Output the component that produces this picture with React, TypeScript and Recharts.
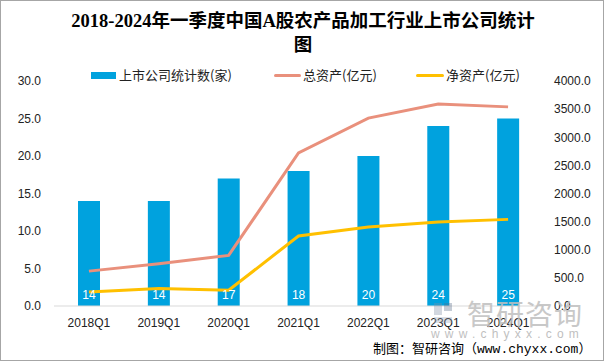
import React from "react";
import { ComposedChart, Bar, Line, XAxis, YAxis, LabelList } from "recharts";

const categories = ["2018Q1", "2019Q1", "2020Q1", "2021Q1", "2022Q1", "2023Q1", "2024Q1"];
const companyCount = [14, 14, 17, 18, 20, 24, 25];
const totalAssets = [620, 750, 900, 2720, 3340, 3590, 3540];
const netAssets = [250, 310, 280, 1245, 1405, 1495, 1540];
const leftTicks = [0, 5, 10, 15, 20, 25, 30];
const rightTicks = [0, 500, 1000, 1500, 2000, 2500, 3000, 3500, 4000];

const data = categories.map((c, i) => ({
  name: c,
  count: companyCount[i],
  total: totalAssets[i],
  net: netAssets[i],
}));

const BLUE = "#00A2DE";
const PINK = "#E9907C";
const YELLOW = "#FFC000";
const SANS = "'Liberation Sans', 'Noto Sans CJK SC', sans-serif";
const CJK = "'Noto Sans CJK SC', sans-serif";
const SERIF = "'Liberation Serif', 'Noto Sans CJK SC', serif";

export default function App() {
  return (
    <div
      style={{
        position: "absolute",
        left: 0,
        top: 0,
        width: 604,
        height: 361,
        background: "#fff",
        boxSizing: "border-box",
        border: "1px solid #a6a6a6",
        overflow: "hidden",
      }}
    >
      <div
        style={{
          position: "absolute",
          left: 0,
          top: 8,
          width: 604,
          textAlign: "center",
          fontFamily: SERIF,
          fontWeight: "bold",
          fontSize: 18.5,
          lineHeight: "24px",
          color: "#000",
        }}
      >
        2018-2024年一季度中国A股农产品加工行业上市公司统计
        <br />图
      </div>

      <div style={{ position: "absolute", left: 0, top: 0 }}>
        <ComposedChart
          width={604}
          height={361}
          data={data}
          margin={{ top: 80, right: 12, bottom: 26, left: 8 }}
        >
          <XAxis
            dataKey="name"
            xAxisId="x"
            axisLine={{ stroke: "#d9d9d9" }}
            tickLine={false}
            tickSize={0}
            tickMargin={12}
            height={30}
            tick={{ fontSize: 12, fill: "#222", fontFamily: SANS }}
          />
          <YAxis
            yAxisId="left"
            orientation="left"
            domain={[0, 30]}
            ticks={leftTicks}
            width={45}
            axisLine={false}
            tickLine={false}
            tickSize={0}
            tickMargin={13}
            tickFormatter={(v: number) => v.toFixed(1)}
            tick={{ fontSize: 12, fill: "#222", fontFamily: SANS }}
          />
          <YAxis
            yAxisId="right"
            orientation="right"
            domain={[0, 4000]}
            ticks={rightTicks}
            width={50}
            axisLine={false}
            tickLine={false}
            tickSize={0}
            tickMargin={11}
            tickFormatter={(v: number) => v.toFixed(1)}
            tick={{ fontSize: 12, fill: "#222", fontFamily: SANS, textAnchor: "start" }}
          />
          <Bar
            dataKey="count"
            xAxisId="x"
            yAxisId="left"
            fill={BLUE}
            barSize={22}
            isAnimationActive={false}
          >
            <LabelList
              dataKey="count"
              position="insideBottom"
              offset={7}
              fill="#fff"
              style={{ fontSize: 12, fontFamily: SANS }}
            />
          </Bar>
          <Line
            dataKey="total"
            xAxisId="x"
            yAxisId="right"
            stroke={PINK}
            strokeWidth={3}
            dot={false}
            type="linear"
            isAnimationActive={false}
          />
          <Line
            dataKey="net"
            xAxisId="x"
            yAxisId="right"
            stroke={YELLOW}
            strokeWidth={3}
            dot={false}
            type="linear"
            isAnimationActive={false}
          />
        </ComposedChart>
      </div>

      {/* Legend */}
      <div
        style={{
          position: "absolute",
          left: 0,
          top: 64,
          width: 604,
          height: 20,
          fontFamily: CJK,
          fontSize: 13,
          color: "#222",
        }}
      >
        <div style={{ position: "absolute", left: 90, top: 7, width: 25, height: 7, background: BLUE }} />
        <div style={{ position: "absolute", left: 118, top: 0, lineHeight: "20px", whiteSpace: "nowrap" }}>
          上市公司统计数(家)
        </div>
        <div style={{ position: "absolute", left: 273, top: 9, width: 27, height: 3, background: PINK, borderRadius: 2 }} />
        <div style={{ position: "absolute", left: 302, top: 0, lineHeight: "20px", whiteSpace: "nowrap" }}>
          总资产(亿元)
        </div>
        <div style={{ position: "absolute", left: 415, top: 9, width: 28, height: 3, background: YELLOW, borderRadius: 2 }} />
        <div style={{ position: "absolute", left: 445, top: 0, lineHeight: "20px", whiteSpace: "nowrap" }}>
          净资产(亿元)
        </div>
      </div>

      {/* Watermark */}
      <div style={{ position: "absolute", left: 433, top: 302, opacity: 0.35 }}>
        <div style={{ position: "absolute", left: 0, top: 0, width: 8, height: 12, background: "#7f8fa6" }} />
        <div style={{ position: "absolute", left: 10, top: 0, width: 8, height: 8, background: "#5a6d8a" }} />
        <div style={{ position: "absolute", left: 0, top: 14, width: 18, height: 6, background: "#9aa6b8" }} />
      </div>
      <div
        style={{
          position: "absolute",
          left: 466,
          top: 296,
          fontFamily: CJK,
          fontSize: 28,
          lineHeight: "32px",
          color: "#bfbfbf",
          opacity: 0.85,
          letterSpacing: 1,
          whiteSpace: "nowrap",
        }}
      >
        智研咨询
      </div>
      <div
        style={{
          position: "absolute",
          left: 430,
          top: 326,
          fontFamily: SANS,
          fontSize: 12,
          lineHeight: "14px",
          color: "#bfbfbf",
          letterSpacing: 5.2,
          whiteSpace: "nowrap",
        }}
      >
        www.chyxx.com
      </div>

      {/* Source */}
      <div
        style={{
          position: "absolute",
          left: 372,
          top: 340,
          fontFamily: "'Liberation Mono', 'Noto Sans CJK SC', monospace",
          fontSize: 13,
          lineHeight: "17px",
          color: "#000",
          whiteSpace: "nowrap",
        }}
      >
        制图：智研咨询（www.chyxx.com）
      </div>
    </div>
  );
}
